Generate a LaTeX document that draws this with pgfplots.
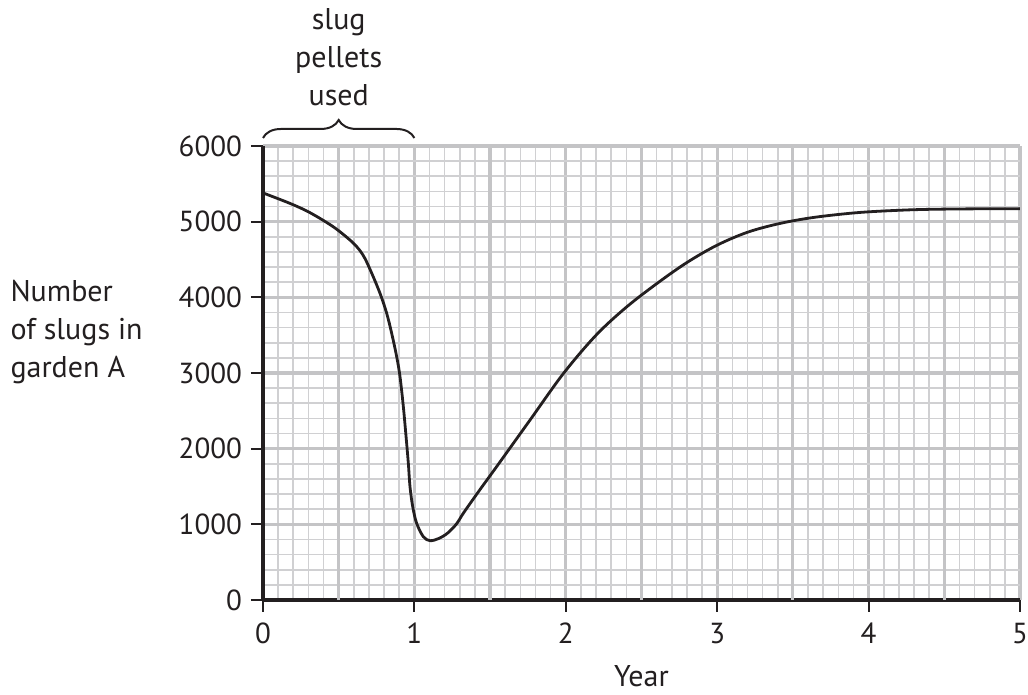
\documentclass[border=0pt]{standalone}
\usepackage{pgfplots}
\pgfplotsset{compat=1.18}
\usepackage{fontspec}
\setmainfont{PT Sans}
\usetikzlibrary{decorations.pathreplacing}
\definecolor{ink}{HTML}{231F20}
\definecolor{gminor}{HTML}{D0D0D2}
\definecolor{gmajor}{HTML}{C4C4C6}
\begin{document}
\begin{tikzpicture}
\useasboundingbox (-131.5pt,-47.5pt) rectangle (382.5pt,300pt);
\begin{axis}[
  scale only axis,
  width=378.5pt, height=227pt,
  xmin=0, xmax=5, ymin=0, ymax=6000,
  clip=false,
  axis x line*=bottom, axis y line*=left,
  x axis line style={-, line width=2pt, ink},
  y axis line style={-, line width=2pt, ink},
  xtick={0,1,2,3,4,5},
  ytick={0,1000,2000,3000,4000,5000,6000},
  minor xtick={0,0.1,...,5.01},
  minor ytick={0,200,...,6001},
  extra x ticks={0.5,1.5,2.5,3.5,4.5},
  extra x tick labels={},
  extra x tick style={grid=major, major tick length=0pt},
  grid=both,
  minor grid style={gminor, line width=0.8pt},
  major grid style={gmajor, line width=1.6pt},
  tick align=outside,
  major tick length=6pt,
  minor tick length=0pt,
  tick style={ink, line width=1pt},
  every tick label/.append style={font=\fontsize{14.5}{17}\selectfont, text=ink},
  /pgf/number format/assume math mode=true,
  /pgf/number format/1000 sep={},
  xticklabel style={yshift=-2pt},
  yticklabel style={xshift=-1pt},
]
\addplot[ink, line width=1.4pt, smooth, tension=0.55] coordinates {
(0,5380) (0.18,5240) (0.30,5130) (0.42,4990) (0.5,4880) (0.6,4710)
(0.66,4560) (0.707,4370) (0.773,4053) (0.817,3789) (0.850,3524) (0.883,3216)
(0.905,2951) (0.927,2555) (0.945,2158) (0.960,1806) (0.971,1497) (0.989,1233)
(1.015,1013) (1.059,837) (1.103,784) (1.16,812) (1.22,885) (1.28,1010)
(1.323,1146) (1.43,1450) (1.543,1762) (1.764,2379) (1.983,2990) (2.2,3500)
(2.4,3870) (2.6,4180) (2.8,4460) (3.0,4690) (3.2,4860) (3.4,4970)
(3.6,5045) (3.8,5095) (4.0,5130) (4.3,5158) (4.6,5168) (5.0,5172)
};
\draw[ink, line width=1pt, decorate, decoration={brace, amplitude=9pt}]
  (axis cs:0,6106) -- (axis cs:1,6106);
\node[anchor=south, align=center, font=\fontsize{15}{19}\selectfont, text=ink, inner sep=0pt]
  at (axis cs:0.5,6520) {slug\\pellets\\used};
\node[anchor=west, align=left, font=\fontsize{15}{19}\selectfont, text=ink, inner sep=0pt]
  at (rel axis cs:-0.334,0.59) {Number\\of slugs in\\garden A};
\node[anchor=north, font=\fontsize{15}{17}\selectfont, text=ink, inner sep=0pt]
  at (axis cs:2.5,-860) {Year};
\end{axis}
\end{tikzpicture}
\end{document}
